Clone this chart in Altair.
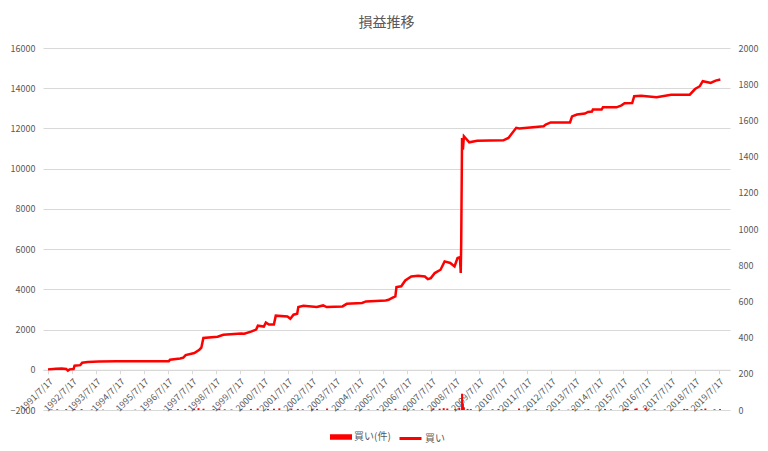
import altair as alt
import pandas as pd

FONT = "Noto Sans CJK JP"
GRAY = "#595959"
RED = "#FF0000"

# cumulative P&L (left axis)
line_dates = [
    "1991-07-17", "1991-11-15", "1992-02-10", "1992-04-20", "1992-05-15", "1992-06-10",
    "1992-08-10", "1992-08-25", "1992-11-20", "1992-12-20", "1993-03-15", "1993-09-01",
    "1994-06-01", "1995-06-01", "1996-08-01", "1996-08-20", "1997-01-20", "1997-03-10",
    "1997-04-15", "1997-08-25", "1997-11-10", "1997-12-10", "1998-01-10", "1998-08-15",
    "1998-11-10", "1999-08-10", "1999-09-25", "2000-01-05", "2000-03-25", "2000-04-20",
    "2000-07-20", "2000-08-20", "2000-10-05", "2000-12-20", "2001-01-18", "2001-07-15",
    "2001-08-28", "2001-10-15", "2001-12-10", "2001-12-28", "2002-03-15", "2002-10-05",
    "2003-01-10", "2003-03-05", "2003-11-01", "2004-01-05", "2004-08-25", "2004-10-25",
    "2005-08-20", "2005-10-05", "2005-11-20", "2006-01-15", "2006-02-01", "2006-04-15",
    "2006-06-15", "2006-09-15", "2006-12-28", "2007-04-10", "2007-05-25", "2007-07-10",
    "2007-09-08", "2007-12-05", "2008-02-05", "2008-05-01", "2008-07-05", "2008-08-20",
    "2008-09-25", "2008-10-08", "2008-10-15", "2008-10-28", "2008-11-10", "2008-11-25",
    "2009-02-15", "2009-06-15", "2010-07-20", "2010-10-05", "2011-02-01", "2011-03-20",
    "2012-03-25", "2012-04-25", "2012-07-10", "2013-05-01", "2013-06-01", "2013-08-15",
    "2013-12-15", "2014-01-30", "2014-04-01", "2014-04-15", "2014-08-25", "2014-09-15",
    "2015-04-10", "2015-06-25", "2015-08-10", "2015-12-05", "2016-01-05", "2016-04-20",
    "2016-12-10", "2017-07-20", "2018-05-01", "2018-07-20", "2018-10-01", "2018-11-15",
    "2019-01-30", "2019-03-15", "2019-05-30", "2019-08-10",
]
line_values = [
    20, 50, 60, 40, -40, 20,
    40, 200, 230, 350, 390, 410,
    420, 420, 430, 500, 560, 600,
    730, 830, 1000, 1100, 1580, 1640,
    1740, 1800, 1790, 1900, 2000, 2190,
    2150, 2350, 2250, 2250, 2690, 2650,
    2540, 2740, 2790, 3120, 3180, 3120,
    3200, 3120, 3150, 3280, 3320, 3400,
    3450, 3480, 3560, 3650, 4110, 4150,
    4440, 4640, 4680, 4640, 4510, 4560,
    4810, 4975, 5390, 5310, 5140, 5560,
    5600, 4810, 6300, 11530, 10950, 11610,
    11310, 11390, 11410, 11530, 12030, 12000,
    12110, 12190, 12300, 12300, 12600, 12690,
    12740, 12820, 12840, 12940, 12940, 13050,
    13050, 13150, 13250, 13260, 13600, 13630,
    13550, 13680, 13680, 13960, 14100, 14350,
    14300, 14260, 14380, 14430,
]

# trade counts (right axis)
bar_dates = [
    "1991-09-10", "1991-12-05", "1992-04-20", "1992-08-25", "1992-12-10", "1993-05-14",
    "1993-11-02", "1994-06-15", "1995-03-08", "1995-10-20", "1996-05-17", "1996-09-03",
    "1996-12-18", "1997-04-10", "1997-08-22", "1997-10-28", "1998-01-12", "1998-06-15",
    "1998-09-10", "1998-12-01", "1999-03-15", "1999-08-10", "2000-01-05", "2000-04-17",
    "2000-09-20", "2000-12-21", "2001-03-13", "2001-09-12", "2001-12-20", "2002-03-05",
    "2002-07-24", "2002-10-10", "2003-03-11", "2003-08-20", "2003-12-05", "2004-05-17",
    "2004-08-11", "2004-12-01", "2005-04-20", "2005-10-18", "2006-01-18", "2006-05-23",
    "2006-06-14", "2006-10-20", "2007-02-28", "2007-08-17", "2007-11-21", "2008-01-22",
    "2008-03-17", "2008-07-15", "2008-09-16", "2008-10-28", "2008-11-10", "2008-11-25",
    "2009-01-20", "2009-03-10", "2009-08-10", "2010-02-05", "2010-05-07", "2010-08-25",
    "2011-03-15", "2011-08-09", "2011-11-25", "2012-05-18", "2012-11-15", "2013-04-05",
    "2013-06-13", "2013-12-20", "2014-02-04", "2014-10-17", "2015-01-16", "2015-08-25",
    "2015-09-29", "2016-01-21", "2016-02-12", "2016-06-24", "2016-11-09", "2017-04-14",
    "2017-08-11", "2018-02-06", "2018-03-23", "2018-10-26", "2018-12-25", "2019-05-13",
    "2019-08-05",
]
bar_counts = [
    3, 4, 5, 6, 5, 3,
    2, 2, 2, 3, 2, 4,
    5, 6, 8, 10, 7, 5,
    8, 4, 3, 5, 6, 8,
    6, 7, 9, 8, 6, 4,
    7, 6, 8, 5, 3, 6,
    4, 3, 5, 4, 7, 8,
    6, 4, 6, 9, 7, 10,
    8, 5, 12, 90, 35, 15,
    6, 5, 3, 4, 6, 3,
    8, 6, 4, 5, 3, 2,
    6, 3, 5, 6, 3, 8,
    6, 7, 9, 12, 4, 3,
    2, 6, 5, 5, 8, 4,
    5,
]

tick_years = [1991, 1992, 1993, 1994, 1995, 1996, 1997, 1998, 1999, 2000,
              2001, 2002, 2003, 2004, 2005, 2006, 2007, 2008, 2009, 2010,
              2011, 2012, 2013, 2014, 2015, 2016, 2017, 2018, 2019]
left_ticks = [-2000, 0, 2000, 4000, 6000, 8000, 10000, 12000, 14000, 16000]
right_ticks = [0, 200, 400, 600, 800, 1000, 1200, 1400, 1600, 1800, 2000]

line_df = pd.DataFrame({"date": line_dates, "value": line_values, "series": "買い"})
bar_df = pd.DataFrame({"date": bar_dates, "count": bar_counts, "series": "買い(件)"})

x_domain = [alt.DateTime(year=1991, month=7, date=17), alt.DateTime(year=2019, month=10, date=20)]
x_ticks = [alt.DateTime(year=y, month=7, date=17) for y in tick_years]

H = 362
offset0 = -H * 2000 / 18000

x_enc = alt.X(
    "date:T",
    scale=alt.Scale(domain=x_domain),
    axis=alt.Axis(
        values=x_ticks, format="%Y/%-m/%-d", labelAngle=-45, title=None,
        grid=False, offset=offset0, domainColor="#d9d9d9", tickColor="#d9d9d9",
        tickSize=4, labelFont=FONT, labelFontSize=9, labelColor=GRAY,
        labelPadding=3, labelOverlap=False, labelFlush=False,
    ),
)

bars = alt.Chart(bar_df).mark_bar(size=2, color=RED).encode(
    x=x_enc,
    y=alt.Y(
        "count:Q",
        scale=alt.Scale(domain=[0, 2000], nice=False),
        axis=alt.Axis(
            orient="right", values=right_ticks, format="d", grid=False, domain=False,
            ticks=False, title=None, labelFont=FONT, labelFontSize=9, labelColor=GRAY,
            labelPadding=8,
        ),
    ),
    color=alt.Color(
        "series:N",
        scale=alt.Scale(domain=["買い(件)"], range=[RED]),
        legend=alt.Legend(
            title=None, orient="none", legendX=287, legendY=378,
            symbolType="M-1,-0.25H1V0.25H-1Z", symbolSize=484,
            symbolStrokeWidth=0, labelFont=FONT, labelFontSize=10, labelColor=GRAY,
            labelOffset=2,
        ),
    ),
)

line = alt.Chart(line_df).mark_line(strokeWidth=2.5, color=RED).encode(
    x=x_enc,
    y=alt.Y(
        "value:Q",
        scale=alt.Scale(domain=[-2000, 16000], nice=False),
        axis=alt.Axis(
            orient="left", values=left_ticks, format="d", grid=True, gridColor="#d9d9d9",
            domain=False, ticks=False, title=None, labelFont=FONT, labelFontSize=9,
            labelColor=GRAY, labelPadding=8,
        ),
    ),
    stroke=alt.Stroke(
        "series:N",
        scale=alt.Scale(domain=["買い"], range=[RED]),
        legend=alt.Legend(
            title=None, orient="none", legendX=355, legendY=378,
            symbolType="stroke", symbolSize=484, symbolStrokeWidth=3,
            labelFont=FONT, labelFontSize=10, labelColor=GRAY, labelOffset=2,
        ),
    ),
)

chart = alt.layer(bars, line).resolve_scale(
    y="independent", color="independent", stroke="independent"
).properties(
    width=687,
    height=H,
    autosize=alt.AutoSizeParams(type="none"),
    padding={"left": 35, "top": 40, "right": 30, "bottom": 33},
    title=alt.TitleParams(
        "損益推移", font=FONT, fontSize=14, fontWeight="normal", color=GRAY, offset=14,
    ),
).configure_view(stroke=None)

chart.save("out.html", embed_options={"renderer": "svg", "actions": False})
